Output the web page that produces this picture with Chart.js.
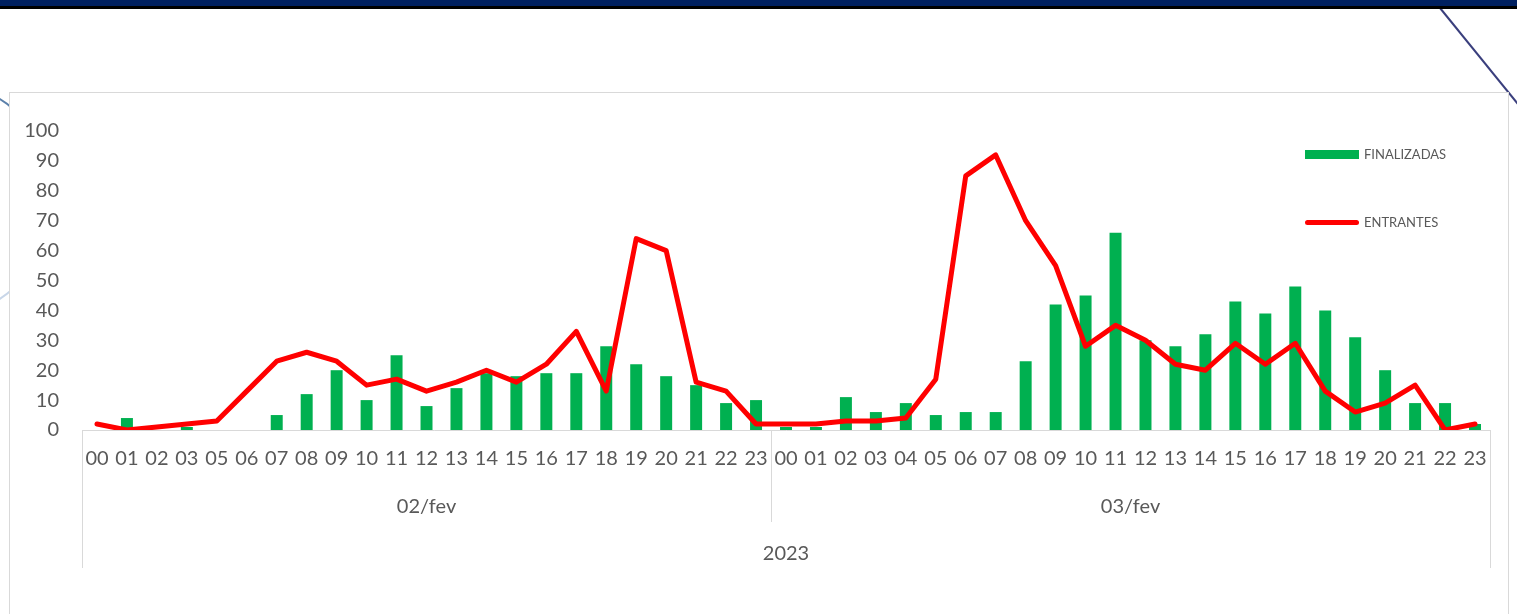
<!DOCTYPE html>
<html>
<head>
<meta charset="utf-8">
<script src="https://cdn.jsdelivr.net/npm/chart.js@4.4.1/dist/chart.umd.min.js"></script>
<style>
  html, body { margin: 0; padding: 0; background: #ffffff; }
  body { width: 1517px; height: 614px; position: relative; overflow: hidden; font-family: Lato, "Open Sans", sans-serif; }
  #topband { position: absolute; left: 0; top: 0; width: 1517px; height: 6px; background: #002060; }
  #topline { position: absolute; left: 0; top: 6px; width: 1517px; height: 3px; background: #000000; }
  #deco { position: absolute; left: 0; top: 0; }
  #box { position: absolute; left: 9px; top: 92px; width: 1498px; height: 600px; border: 1px solid #d9d9d9; background: #ffffff; }
  #wrap { position: absolute; left: 0; top: 0; width: 1517px; height: 614px; }
  #legend { position: absolute; left: 1305px; top: 0; }
  .li { position: absolute; left: 0; display: flex; align-items: center; white-space: nowrap; font-size: 13px; color: #595959; }
  .sw { width: 54px; margin-right: 5px; }
</style>
</head>
<body>
<svg id="deco" width="1517" height="614">
  <line x1="1440" y1="8" x2="1522" y2="109" stroke="#3a3f7d" stroke-width="2"/>
  <path d="M -2 98 Q 6 102 14 110" fill="none" stroke="#5b80aa" stroke-width="2"/>
  <path d="M -2 300 Q 6 295 14 288" fill="none" stroke="#c8d6e8" stroke-width="2"/>
</svg>
<div id="topband"></div>
<div id="topline"></div>
<div id="box"></div>
<div id="wrap"><canvas id="c" width="1517" height="614"></canvas></div>
<div id="legend"></div>
<script>
// ---- data ----
const hours = ['00','01','02','03','05','06','07','08','09','10','11','12','13','14','15','16','17','18','19','20','21','22','23',
               '00','01','02','03','04','05','06','07','08','09','10','11','12','13','14','15','16','17','18','19','20','21','22','23'];
const dayGroups = ['02/fev', '03/fev'];
const dayLengths = [23, 24];
const yearLabel = '2023';
const finalizadas = [0,4,0,1,0,0,5,12,20,10,25,8,14,19,18,19,19,28,22,18,15,9,10,
                     1,1,11,6,9,5,6,6,23,42,45,66,30,28,32,43,39,48,40,31,20,9,9,2];
const entrantes = [2,0,1,2,3,13,23,26,23,15,17,13,16,20,16,22,33,13,64,60,16,13,2,
                   2,2,3,3,4,17,85,92,70,55,28,35,30,22,20,29,22,29,13,6,9,15,0,2];
const yTicks = [0,10,20,30,40,50,60,70,80,90,100];

const textColor = '#595959';
const gridColor = '#d9d9d9';
const fontFamily = 'Lato, "Open Sans", sans-serif';

const groupPlugin = {
  id: 'groupLabels',
  afterDraw(chart) {
    const ctx = chart.ctx;
    const xs = chart.scales.x;
    const area = chart.chartArea;
    const y0 = area.bottom;
    ctx.save();
    ctx.strokeStyle = gridColor;
    ctx.lineWidth = 1;
    const lines = [[area.left, 568], [area.right, 568]];
    let idx = 0;
    const bounds = [];
    dayLengths.forEach((len, i) => {
      const first = idx, last = idx + len - 1;
      bounds.push([first, last]);
      if (i < dayLengths.length - 1) {
        const xb = (xs.getPixelForValue(last) + xs.getPixelForValue(last + 1)) / 2;
        lines.push([xb, 522]);
      }
      idx += len;
    });
    lines.forEach(([x, yb]) => {
      const xx = Math.round(x) + 0.5;
      ctx.beginPath(); ctx.moveTo(xx, y0); ctx.lineTo(xx, yb); ctx.stroke();
    });
    ctx.fillStyle = textColor;
    ctx.font = '20px ' + fontFamily;
    ctx.textAlign = 'center';
    ctx.textBaseline = 'middle';
    bounds.forEach(([a, b], i) => {
      const left = a === 0 ? area.left : (xs.getPixelForValue(a - 1) + xs.getPixelForValue(a)) / 2;
      const right = b === hours.length - 1 ? area.right : (xs.getPixelForValue(b) + xs.getPixelForValue(b + 1)) / 2;
      ctx.fillText(dayGroups[i], (left + right) / 2, 507);
    });
    ctx.fillText(yearLabel, (area.left + area.right) / 2, 554);
    ctx.restore();
  }
};

const chart = new Chart(document.getElementById('c'), {
  type: 'bar',
  data: {
    labels: hours,
    datasets: [
      {
        type: 'bar',
        label: 'FINALIZADAS',
        data: finalizadas,
        backgroundColor: '#00b050',
        borderWidth: 0,
        barPercentage: 0.4,
        categoryPercentage: 1.0,
        order: 2
      },
      {
        type: 'line',
        label: 'ENTRANTES',
        data: entrantes,
        borderColor: '#ff0000',
        backgroundColor: '#ff0000',
        borderWidth: 5,
        pointRadius: 0,
        tension: 0,
        borderJoinStyle: 'round',
        borderCapStyle: 'round',
        order: 1
      }
    ]
  },
  options: {
    responsive: false,
    animation: false,
    events: [],
    layout: { padding: { left: 10, right: 27, top: 131, bottom: 0 } },
    plugins: {
      legend: { display: false },
      tooltip: { enabled: false }
    },
    scales: {
      x: {
        grid: { display: false, drawTicks: false },
        border: { display: true, color: gridColor, width: 1 },
        ticks: { color: textColor, font: { family: fontFamily, size: 20 }, padding: 17, maxRotation: 0, autoSkip: false },
        afterFit(scale) { scale.height = 184; }
      },
      y: {
        min: 0, max: 100,
        grid: { display: false, drawTicks: false },
        border: { display: false },
        afterBuildTicks(scale) { scale.ticks = yTicks.map(v => ({ value: v })); },
        ticks: { color: textColor, font: { family: fontFamily, size: 20 }, padding: 23 },
        afterFit(scale) { scale.width = 72; }
      }
    }
  },
  plugins: [groupPlugin]
});

// HTML legend built from the chart's datasets
const legendEl = document.getElementById('legend');
const legendTops = [154, 222];
chart.data.datasets.forEach((ds, i) => {
  const item = document.createElement('div');
  item.className = 'li';
  item.style.top = (legendTops[i] - 8) + 'px';
  item.style.height = '16px';
  const sw = document.createElement('span');
  sw.className = 'sw';
  if (ds.type === 'line') {
    sw.style.height = '5px';
    sw.style.borderRadius = '3px';
    sw.style.background = ds.borderColor;
  } else {
    sw.style.height = '9px';
    sw.style.background = ds.backgroundColor;
  }
  const tx = document.createElement('span');
  tx.textContent = ds.label;
  item.appendChild(sw);
  item.appendChild(tx);
  legendEl.appendChild(item);
});
</script>
</body>
</html>
